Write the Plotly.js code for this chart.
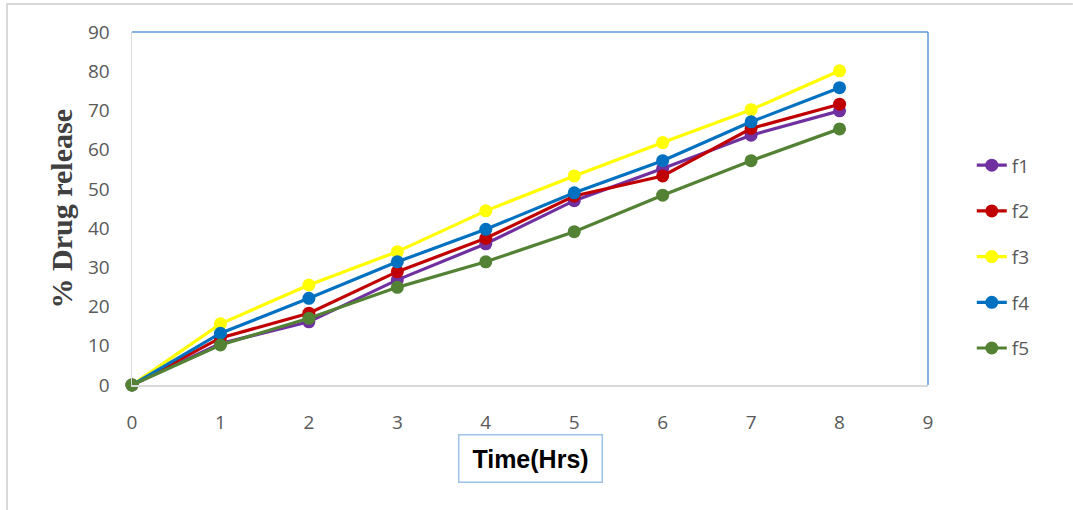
<!DOCTYPE html>
<html>
<head>
<meta charset="utf-8">
<script src="https://cdn.plot.ly/plotly-3.0.1.min.js"></script>
<style>html,body{margin:0;padding:0;background:#fff;}#chart{width:1073px;height:510px;}</style>
</head>
<body>
<div id="chart"></div>
<script>
const timeHrs = [0, 1, 2, 3, 4, 5, 6, 7, 8];
const f1 = [0, 10.6, 16.1, 26.8, 36.0, 47.0, 55.2, 63.7, 69.9];
const f2 = [0, 12.0, 18.3, 28.9, 37.4, 48.2, 53.3, 65.4, 71.6];
const f3 = [0, 15.6, 25.5, 34.0, 44.4, 53.3, 61.8, 70.2, 80.1];
const f4 = [0, 13.2, 22.1, 31.4, 39.7, 49.0, 57.2, 67.1, 75.8];
const f5 = [0, 10.2, 17.0, 24.9, 31.4, 39.1, 48.4, 57.2, 65.3];
const seriesNames = ["f1", "f2", "f3", "f4", "f5"];
const seriesValues = [f1, f2, f3, f4, f5];
const seriesColors = ["#7030a0", "#c00000", "#ffff00", "#0070c0", "#548235"];

const traces = seriesNames.map((n, i) => ({
  x: timeHrs, y: seriesValues[i], name: n, type: "scatter", mode: "lines+markers",
  line: {color: seriesColors[i], width: 3.2},
  marker: {color: seriesColors[i], size: 13},
  cliponaxis: false, legendgroup: n
}));

const layout = {
  width: 1073, height: 510,
  margin: {l: 132, r: 145, t: 32, b: 125},
  paper_bgcolor: "#fff", plot_bgcolor: "#fff",
  showlegend: true,
  legend: {x: 1.055, y: 0.363, xanchor: "left", yanchor: "middle",
    font: {family: "Open Sans, sans-serif", size: 19, color: "#595959"},
    tracegroupgap: 18, bgcolor: "rgba(0,0,0,0)"},
  xaxis: {range: [0, 9], dtick: 1, tick0: 0, showgrid: false, zeroline: false,
    showline: true, linecolor: "#d9d9d9", linewidth: 1.5,
    ticks: "outside", ticklen: 20, tickcolor: "rgba(0,0,0,0)",
    tickfont: {family: "Open Sans, sans-serif", size: 19, color: "#595959"}},
  yaxis: {range: [0, 90], dtick: 10, tick0: 0, showgrid: false, zeroline: false,
    showline: true, linecolor: "#d9d9d9", linewidth: 1.5,
    ticks: "outside", ticklen: 17, tickcolor: "rgba(0,0,0,0)",
    tickfont: {family: "Open Sans, sans-serif", size: 19, color: "#595959"}},
  shapes: [
    {type: "line", xref: "paper", yref: "paper", x0: 0, x1: 1, y0: 1, y1: 1, line: {color: "#5b9bd5", width: 1.5}},
    {type: "line", xref: "paper", yref: "paper", x0: 1, x1: 1, y0: 0, y1: 1, line: {color: "#5b9bd5", width: 1.5}},
    {type: "line", xref: "paper", yref: "paper", x0: -0.1583, x1: 1.182, y0: 1.0793, y1: 1.0793, line: {color: "#d9d9d9", width: 2}},
    {type: "line", xref: "paper", yref: "paper", x0: -0.1570, x1: -0.1570, y0: -0.36, y1: 1.0793, line: {color: "#d9d9d9", width: 2}}
  ],
  annotations: [
    {text: "<b>% Drug release</b>", xref: "paper", yref: "paper", x: -0.088, y: 0.5,
      xanchor: "center", yanchor: "middle", textangle: -90, showarrow: false,
      font: {family: "Liberation Serif, serif", size: 30, color: "#404040"}},
    {text: "<b>Time(Hrs)</b>", xref: "paper", yref: "paper", x: 0.5, y: -0.2068,
      xanchor: "center", yanchor: "middle", showarrow: false,
      width: 138, height: 42, borderpad: 2,
      bordercolor: "#9dc3e6", borderwidth: 1.5,
      font: {family: "Liberation Sans, Arial, sans-serif", size: 25, color: "#000"}}
  ]
};

Plotly.newPlot("chart", traces, layout, {displayModeBar: false, staticPlot: true});
</script>
</body>
</html>
